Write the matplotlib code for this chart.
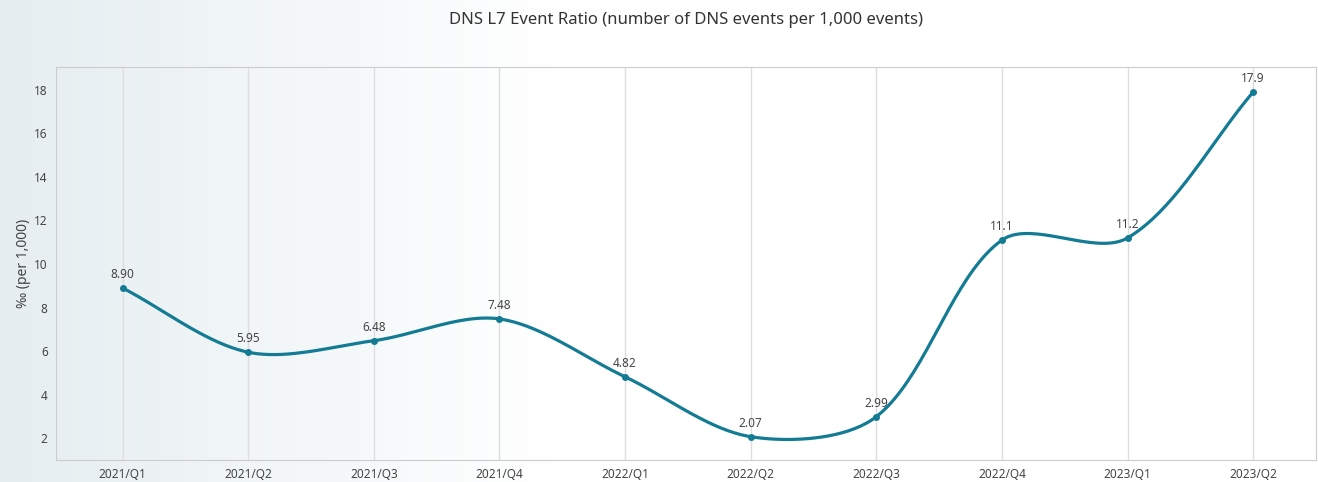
import numpy as np
import matplotlib.pyplot as plt

# --- DATA ---
quarters = ['2021/Q1', '2021/Q2', '2021/Q3', '2021/Q4', '2022/Q1',
            '2022/Q2', '2022/Q3', '2022/Q4', '2023/Q1', '2023/Q2']
ratio = [8.90, 5.95, 6.48, 7.48, 4.82, 2.07, 2.99, 11.1, 11.2, 17.9]
labels = ['8.90', '5.95', '6.48', '7.48', '4.82', '2.07', '2.99', '11.1', '11.2', '17.9']

LINE = '#137b94'
TEXT = '#444444'
plt.rcParams['font.family'] = ['Noto Sans', 'DejaVu Sans']


# --- SMOOTH CURVE (bezier through points, like a charting lib's "smooth") ---
def smooth_curve(xs, ys, sx, sy, smooth=0.32, n=40):
    p = np.column_stack([np.asarray(xs, float) * sx, np.asarray(ys, float) * sy])
    m = len(p)
    cps = []
    for i in range(m):
        prev = p[i - 1] if i > 0 else p[i]
        nxt = p[i + 1] if i < m - 1 else p[i]
        v = (nxt - prev) * smooth
        d0 = np.linalg.norm(p[i] - prev)
        d1 = np.linalg.norm(nxt - p[i])
        tot = d0 + d1 if d0 + d1 > 0 else 1
        cps.append((p[i] - v * d0 / tot, p[i] + v * d1 / tot))
    out = [p[0]]
    t = np.linspace(0, 1, n)[1:, None]
    for i in range(m - 1):
        a, b, c, d = p[i], cps[i][1], cps[i + 1][0], p[i + 1]
        seg = (1 - t) ** 3 * a + 3 * (1 - t) ** 2 * t * b + 3 * (1 - t) * t ** 2 * c + t ** 3 * d
        out.extend(seg)
    out = np.array(out)
    return out[:, 0] / sx, out[:, 1] / sy


fig = plt.figure(figsize=(13.18, 4.82), dpi=100)

# background gradient
bg = fig.add_axes([0, 0, 1, 1], zorder=-5)
grad = np.linspace(0, 1, 300)
grad = np.clip(grad / 0.42, 0, 1)
c0 = np.array([0.90, 0.933, 0.945])
c1 = np.array([1.0, 1.0, 1.0])
img = c0[None, :] * (1 - grad[:, None]) + c1[None, :] * grad[:, None]
bg.imshow(img[None, :, :], aspect='auto', extent=[0, 1, 0, 1])
bg.axis('off')

ax = fig.add_axes([56 / 1318, 22 / 482, 1260 / 1318, 393 / 482])
ax.set_facecolor('none')

x = np.arange(len(quarters))
cx, cy = smooth_curve(x, ratio, 125.67, 21.75)
ax.plot(cx, cy, color=LINE, lw=2.3, solid_capstyle='round', zorder=3)
ax.scatter(x, ratio, s=16, color=LINE, zorder=4)
for xi, yi, lab in zip(x, ratio, labels):
    ax.annotate(lab, (xi, yi), xytext=(0, 5), textcoords='offset points',
                ha='center', va='bottom', fontsize=8.5, color=TEXT, zorder=5)

ax.set_xlim(-0.53, 9.5)
ax.set_ylim(1.0, 19.05)
ax.set_xticks(x)
ax.set_xticklabels(quarters)
ax.set_yticks(range(2, 19, 2))
ax.tick_params(length=0, labelsize=8.5, colors=TEXT, pad=6)
ax.grid(axis='x', color='#dddddd', lw=1)
ax.set_axisbelow(True)
for s in ax.spines.values():
    s.set_color('#cccccc')

ax.set_ylabel('‰ (per 1,000)', fontsize=10, color=TEXT, labelpad=2)
ax.set_title('DNS L7 Event Ratio (number of DNS events per 1,000 events)',
             fontsize=12, color='#333333', pad=31)

fig.savefig('out.png', dpi=100)
